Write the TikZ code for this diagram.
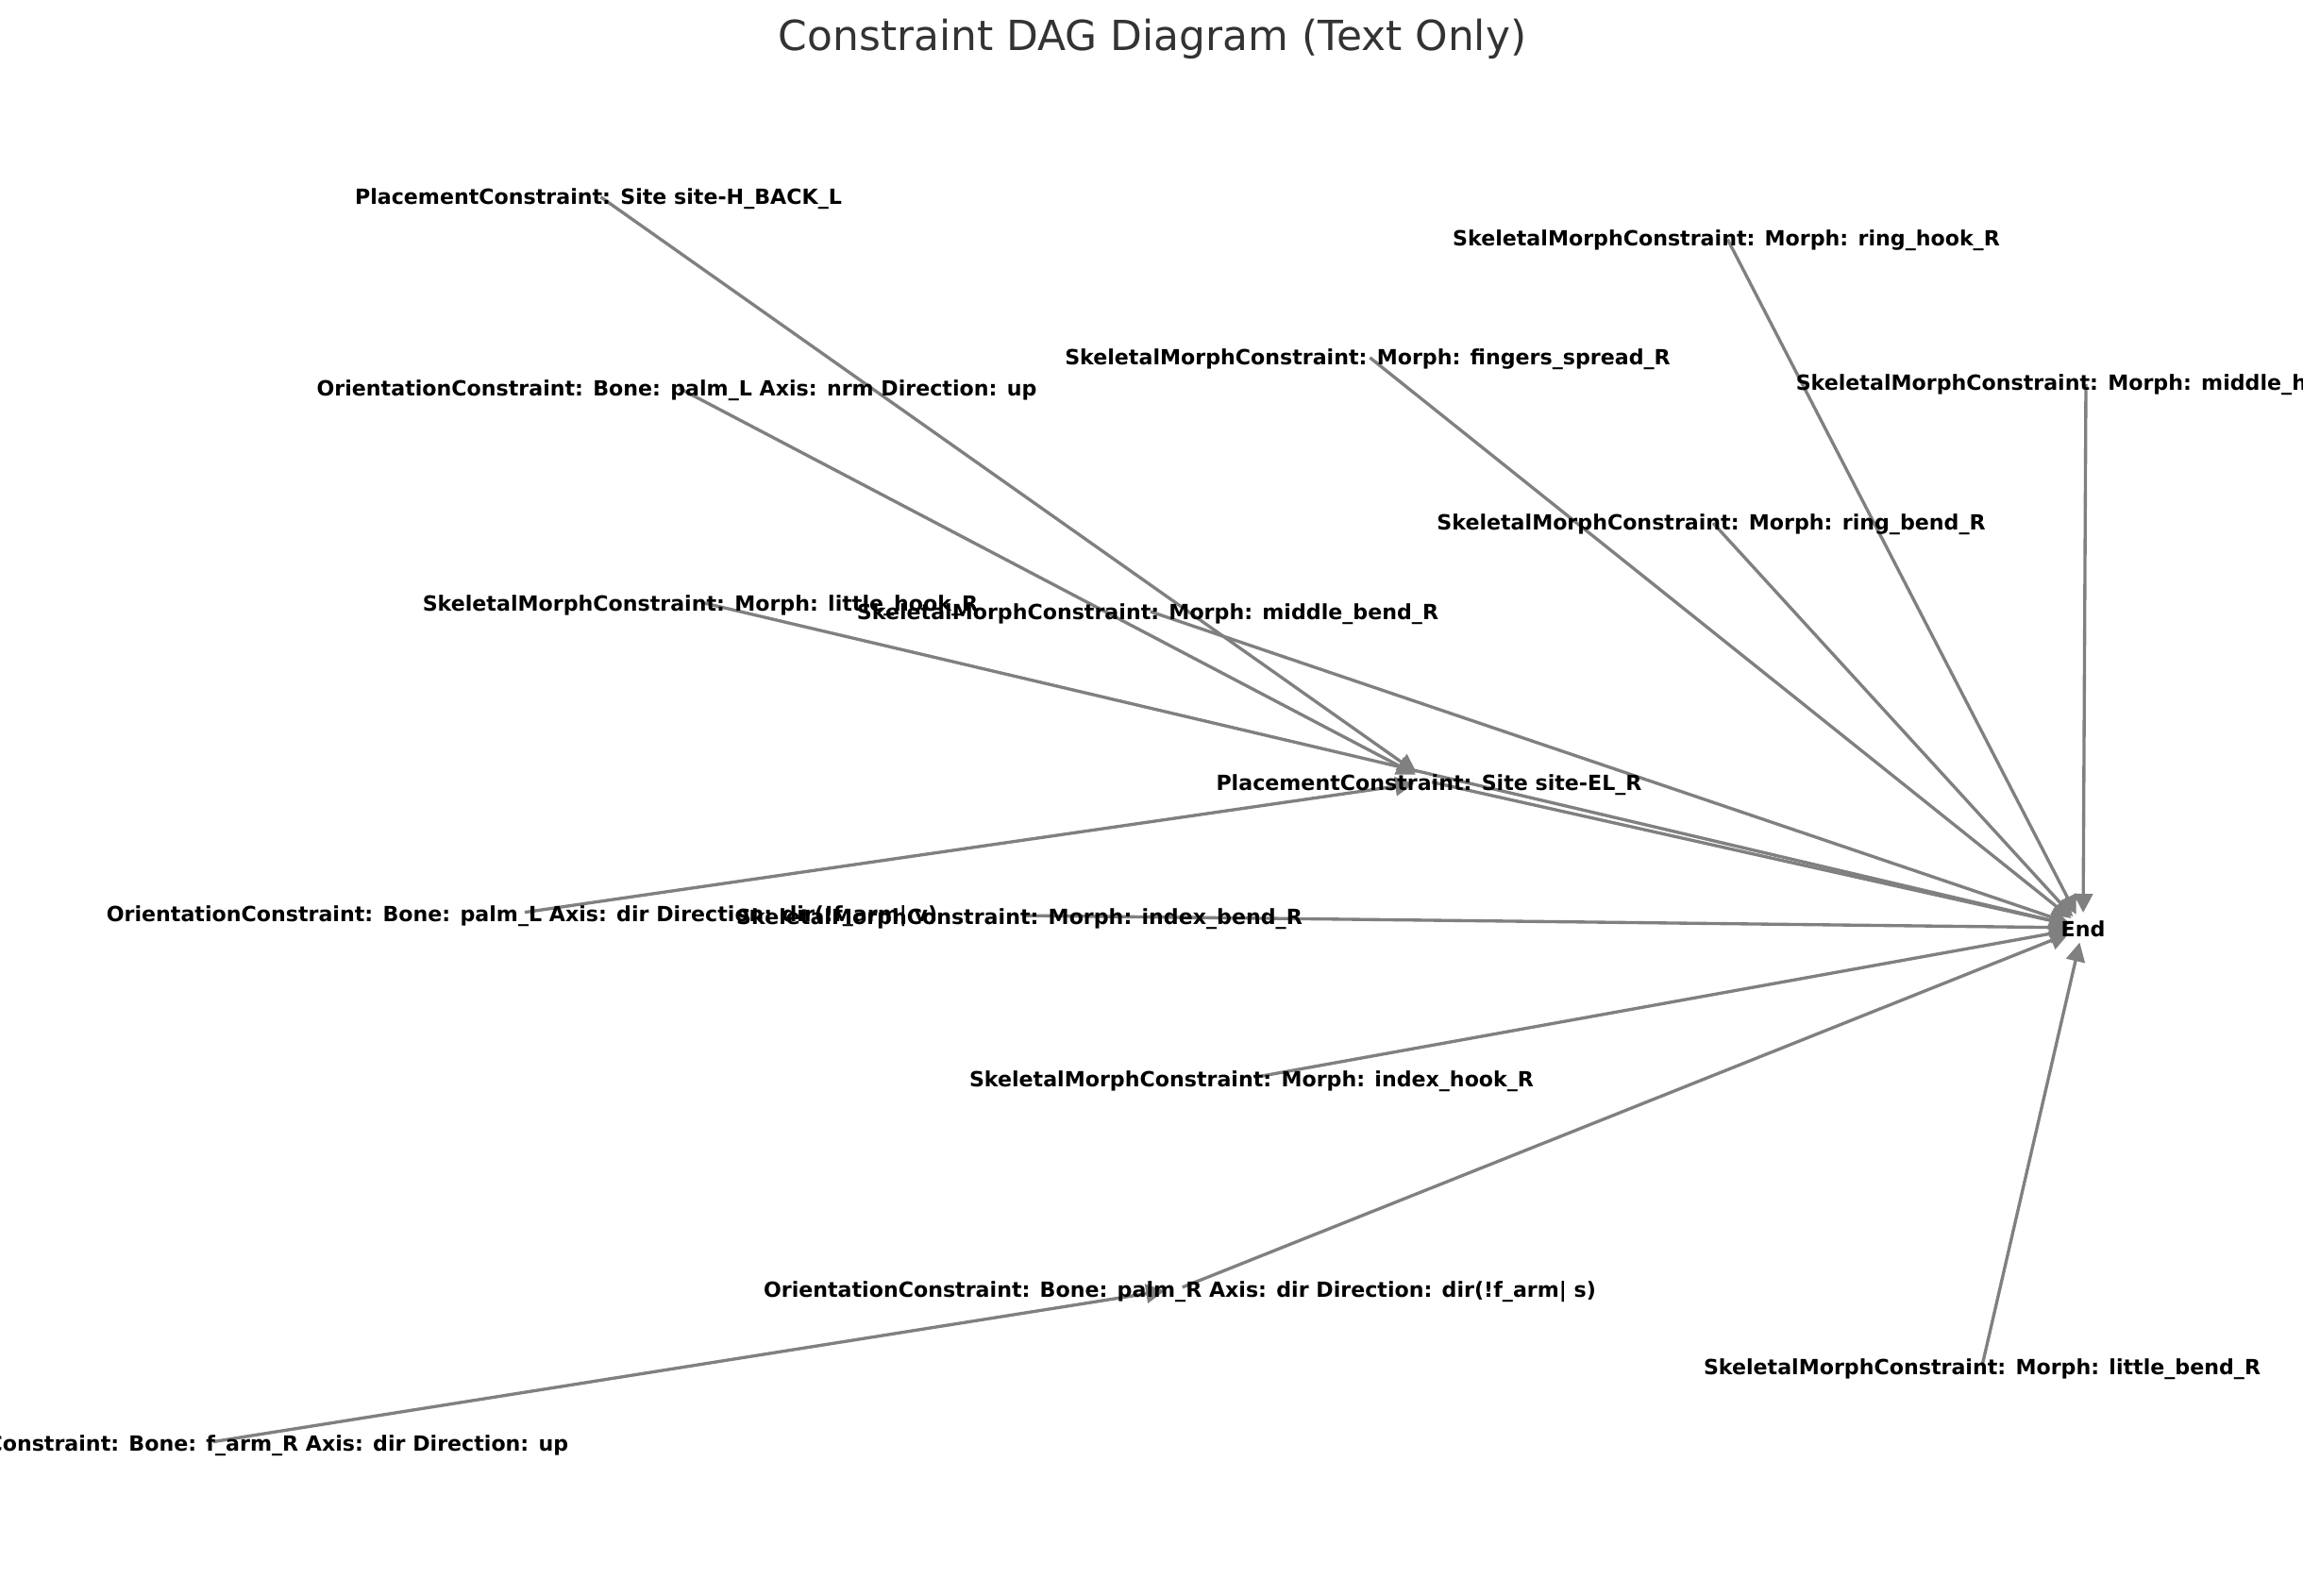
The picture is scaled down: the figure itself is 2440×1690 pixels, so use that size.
\documentclass[tikz,border=0pt]{standalone}
\usepackage{fontspec}
\setmainfont{DejaVu Sans}
\usetikzlibrary{arrows.meta,backgrounds}

\begin{document}
\begin{tikzpicture}[x=0.1mm, y=-0.1mm,
    lbl/.style={inner sep=0pt, text height=0.76em, text depth=0.21em,
      font=\fontsize{6.3}{7.5}\selectfont\bfseries},
    edge/.style={draw=gray, line width=0.95pt, -{Triangle[length=2mm,width=2mm]},
      shorten >=1.6mm, shorten <=0.3mm}]
    \useasboundingbox (0,0) rectangle (2440,1690);
    \node[anchor=base, text=black!80, font=\fontsize{12.5}{15}\selectfont] (title) at (1221,53) {Constraint DAG Diagram (Text Only)};

    \node[lbl] (hback) at (634,207) {PlacementConstraint: Site site-H\_BACK\_L};
    \node[lbl] (ringhook) at (1829,251) {SkeletalMorphConstraint: Morph: ring\_hook\_R};
    \node[lbl] (fingers) at (1449,377) {SkeletalMorphConstraint: Morph: fingers\_spread\_R};
    \node[lbl] (middlehook) at (2210,404) {SkeletalMorphConstraint: Morph: middle\_hook\_R};
    \node[lbl] (palmLnrm) at (717,410) {OrientationConstraint: Bone: palm\_L Axis: nrm Direction: up};
    \node[lbl] (ringbend) at (1813,552) {SkeletalMorphConstraint: Morph: ring\_bend\_R};
    \node[lbl] (littlehook) at (742,638) {SkeletalMorphConstraint: Morph: little\_hook\_R};
    \node[lbl] (middlebend) at (1216,647) {SkeletalMorphConstraint: Morph: middle\_bend\_R};
    \node[lbl] (elr) at (1514,828) {PlacementConstraint: Site site-EL\_R};
    \node[lbl] (palmLdir) at (553,967) {OrientationConstraint: Bone: palm\_L Axis: dir Direction: dir(!f\_arm| v)};
    \node[lbl] (indexbend) at (1080,970) {SkeletalMorphConstraint: Morph: index\_bend\_R};
    \node[lbl] (End) at (2207,983) {End};
    \node[lbl] (indexhook) at (1326,1142) {SkeletalMorphConstraint: Morph: index\_hook\_R};
    \node[lbl] (palmR) at (1250,1365) {OrientationConstraint: Bone: palm\_R Axis: dir Direction: dir(!f\_arm| s)};
    \node[lbl] (littlebend) at (2100,1447) {SkeletalMorphConstraint: Morph: little\_bend\_R};
    \node[lbl] (farmR) at (223,1528) {OrientationConstraint: Bone: f\_arm\_R Axis: dir Direction: up};

    \begin{scope}[on background layer]
        \draw[edge] (hback.center) -- (elr.center);
        \draw[edge] (palmLnrm.center) -- (elr.center);
        \draw[edge] (palmLdir.center) -- (elr.center);
        \draw[edge] (elr.center) -- (End.center);
        \draw[edge] (littlehook.center) -- (End.center);
        \draw[edge] (middlebend.center) -- (End.center);
        \draw[edge] (fingers.center) -- (End.center);
        \draw[edge] (ringbend.center) -- (End.center);
        \draw[edge] (ringhook.center) -- (End.center);
        \draw[edge] (middlehook.center) -- (End.center);
        \draw[edge] (indexbend.center) -- (End.center);
        \draw[edge] (indexhook.center) -- (End.center);
        \draw[edge] (palmR.center) -- (End.center);
        \draw[edge] (littlebend.center) -- (End.center);
        \draw[edge] (farmR.center) -- (palmR.center);
    \end{scope}
\end{tikzpicture}
\end{document}
